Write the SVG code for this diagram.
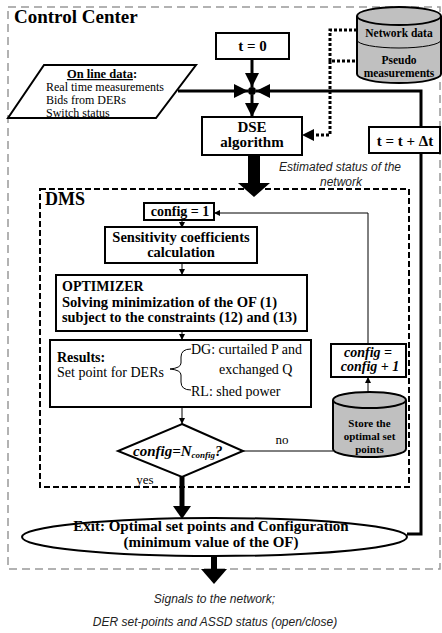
<svg xmlns="http://www.w3.org/2000/svg" width="442" height="633" viewBox="0 0 442 633">
<style>
.s{font-family:"Liberation Serif","Times New Roman",serif;fill:#000}
.b{font-weight:bold}
.i{font-style:italic}
.a{font-family:"Liberation Sans",Arial,sans-serif;font-style:italic;font-size:12px;fill:#222}
.box{fill:#fff;stroke:#000;stroke-width:2}
.db{fill:#c0c0c0;stroke:#000;stroke-width:2}
.thick{fill:none;stroke:#000;stroke-width:3}
.thin{fill:none;stroke:#000;stroke-width:1}
.dot{fill:none;stroke:#000;stroke-width:3;stroke-dasharray:3,2}
</style>
<defs>
<marker id="ah" markerUnits="userSpaceOnUse" markerWidth="14" markerHeight="14" viewBox="0 0 14 14" refX="14" refY="7" orient="auto"><path d="M0,0 L14,7 L0,14 z"/></marker>
<marker id="sa" markerUnits="userSpaceOnUse" markerWidth="6" markerHeight="6" viewBox="0 0 6 6" refX="6" refY="3" orient="auto"><path d="M0,0 L6,3 L0,6 z"/></marker>
</defs>
<rect width="442" height="633" fill="#fff"/>

<g id="control-center">
<rect x="8" y="7" width="432" height="562" fill="none" stroke="#999" stroke-width="1.5" stroke-dasharray="8,5"/>
<text class="s b" x="14" y="23" font-size="19">Control Center</text>
</g>

<g id="dms">
<rect x="40" y="189" width="369" height="298" fill="none" stroke="#000" stroke-width="2" stroke-dasharray="6,3"/>
<text class="s b" x="45" y="205" font-size="18">DMS</text>
</g>

<g id="connectors">
<line class="thick" x1="252" y1="59" x2="252" y2="87" marker-end="url(#ah)"/>
<line class="thick" x1="178" y1="91" x2="248" y2="91" marker-end="url(#ah)"/>
<path class="thick" d="M407,534 H421 V91 H256" marker-end="url(#ah)"/>
<line class="thick" x1="252" y1="95" x2="252" y2="117" marker-end="url(#ah)"/>
<circle cx="252" cy="91" r="4"/>
<path class="dot" d="M357,30 H330 V61 H357"/>
<path class="dot" d="M330,61 V135 H314"/>
<path d="M314,129 L302,135 L314,141 z"/>
<polygon points="248,155 260,155 260,183 270,183 254,197 238,183 248,183"/>
<line class="thin" x1="182" y1="220" x2="182" y2="228" marker-end="url(#sa)"/>
<line class="thin" x1="182" y1="263" x2="182" y2="275" marker-end="url(#sa)"/>
<line class="thin" x1="182" y1="331" x2="182" y2="340" marker-end="url(#sa)"/>
<line class="thin" x1="182" y1="407" x2="182" y2="424" marker-end="url(#sa)"/>
<line class="thin" x1="368" y1="392" x2="368" y2="377" marker-end="url(#sa)"/>
<path class="thin" d="M368,344 V213 H214" marker-end="url(#sa)"/>
<line class="thin" x1="243" y1="451" x2="333" y2="451"/>
<line x1="182" y1="477" x2="182" y2="507" stroke="#000" stroke-width="5"/>
<polygon points="173,506 191,506 182,519"/>
<line x1="214" y1="556" x2="214" y2="570" stroke="#000" stroke-width="6"/>
<polygon points="201,569 227,569 214,584"/>
</g>

<g id="t0">
<rect class="box" x="216" y="33" width="73" height="26"/>
<text class="s b" x="252.5" y="51" font-size="15" text-anchor="middle">t = 0</text>
</g>

<g id="online-data">
<polygon class="box" points="44,65 196,65 156,118 8,118"/>
<text class="s b" x="102" y="78" font-size="12.5" text-anchor="middle"><tspan text-decoration="underline">On line data</tspan>:</text>
<text class="s" x="46" y="91" font-size="12">Real time measurements</text>
<text class="s" x="46" y="104" font-size="12">Bids from DERs</text>
<text class="s" x="46" y="117" font-size="12">Switch status</text>
</g>

<g id="network-db">
<path class="db" d="M357,16 V74 A42,9 0 0 0 441,74 V16"/>
<ellipse class="db" cx="399" cy="16" rx="42" ry="9"/>
<path class="thin" stroke-width="1.5" d="M357,40 A42,8 0 0 0 441,40"/>
<text class="s b" x="399" y="37" font-size="11.5" text-anchor="middle">Network data</text>
<text class="s b" x="399" y="64" font-size="11.5" text-anchor="middle">Pseudo</text>
<text class="s b" x="399" y="77" font-size="11.5" text-anchor="middle">measurements</text>
</g>

<g id="dse">
<rect class="box" x="202" y="117" width="100" height="38"/>
<text class="s b" x="252" y="132" font-size="15" text-anchor="middle">DSE</text>
<text class="s b" x="252" y="147" font-size="15" text-anchor="middle">algorithm</text>
</g>

<g id="t-update">
<rect class="box" x="369" y="127" width="71" height="26"/>
<text class="s b" x="405" y="146" font-size="15" text-anchor="middle">t = t + Δt</text>
</g>

<g id="estimated-label">
<text class="a" x="340" y="171" text-anchor="middle">Estimated status of the</text>
<text class="a" x="341" y="186" text-anchor="middle">network</text>
</g>

<g id="config1">
<rect class="box" x="144" y="203" width="70" height="17"/>
<text class="s b" x="180" y="216" font-size="14" text-anchor="middle">config = 1</text>
</g>

<g id="sensitivity">
<rect class="box" x="105" y="227" width="152" height="36"/>
<text class="s b" x="181" y="242" font-size="14.5" text-anchor="middle">Sensitivity coefficients</text>
<text class="s b" x="181" y="257" font-size="14.5" text-anchor="middle">calculation</text>
</g>

<g id="optimizer">
<rect class="box" x="56" y="275" width="251" height="56"/>
<text class="s b" x="62" y="291" font-size="14">OPTIMIZER</text>
<text class="s b" x="62" y="307" font-size="14" textLength="215" lengthAdjust="spacingAndGlyphs">Solving minimization  of the OF (1)</text>
<text class="s b" x="62" y="322" font-size="14" textLength="235" lengthAdjust="spacingAndGlyphs">subject to the constraints (12) and (13)</text>
</g>

<g id="results">
<rect class="box" x="50" y="340" width="261" height="67"/>
<text class="s b" x="57" y="362" font-size="14">Results:</text>
<text class="s" x="57" y="377" font-size="14">Set point for DERs</text>
<path class="thin" d="M191,349 Q181,349 181,357 L181,363 Q181,368 170,369 Q181,370 181,375 L181,382 Q181,390 191,390"/>
<text class="s" x="191" y="354" font-size="14">DG: curtailed P and</text>
<text class="s" x="219" y="374" font-size="14">exchanged Q</text>
<text class="s" x="191" y="396" font-size="14">RL: shed power</text>
</g>

<g id="decision">
<polygon class="box" points="182,424 243,451 182,477 118,451"/>
<text class="s b i" x="133" y="456" font-size="15">config=N<tspan font-size="9" dy="2">config</tspan><tspan dy="-2">?</tspan></text>
<text class="s" x="145" y="484" font-size="13" text-anchor="middle">yes</text>
<text class="s" x="282" y="444" font-size="13" text-anchor="middle">no</text>
</g>

<g id="config-inc">
<rect class="box" x="331" y="344" width="75" height="33"/>
<text class="s b i" x="368" y="357" font-size="14" text-anchor="middle">config =</text>
<text class="s b i" x="370" y="371" font-size="14" text-anchor="middle">config + 1</text>
</g>

<g id="store-db">
<path class="db" d="M333,400 V449 A36.5,8 0 0 0 406,449 V400"/>
<ellipse class="db" cx="369.5" cy="400" rx="36.5" ry="8"/>
<text class="s b" x="369.5" y="427" font-size="11" text-anchor="middle">Store the</text>
<text class="s b" x="369.5" y="440" font-size="11" text-anchor="middle">optimal set</text>
<text class="s b" x="369.5" y="453" font-size="11" text-anchor="middle">points</text>
</g>

<g id="exit">
<ellipse class="box" cx="214.5" cy="537" rx="192.5" ry="19"/>
<text class="s b" x="211" y="531" font-size="15" text-anchor="middle">Exit: Optimal set points and Configuration</text>
<text class="s b" x="211" y="547" font-size="15" text-anchor="middle">(minimum value of the OF)</text>
</g>

<g id="signals-label">
<text class="a" x="214.5" y="603" text-anchor="middle">Signals to the network;</text>
<text class="a" x="215" y="626" text-anchor="middle">DER set-points and ASSD status (open/close)</text>
</g>
</svg>
